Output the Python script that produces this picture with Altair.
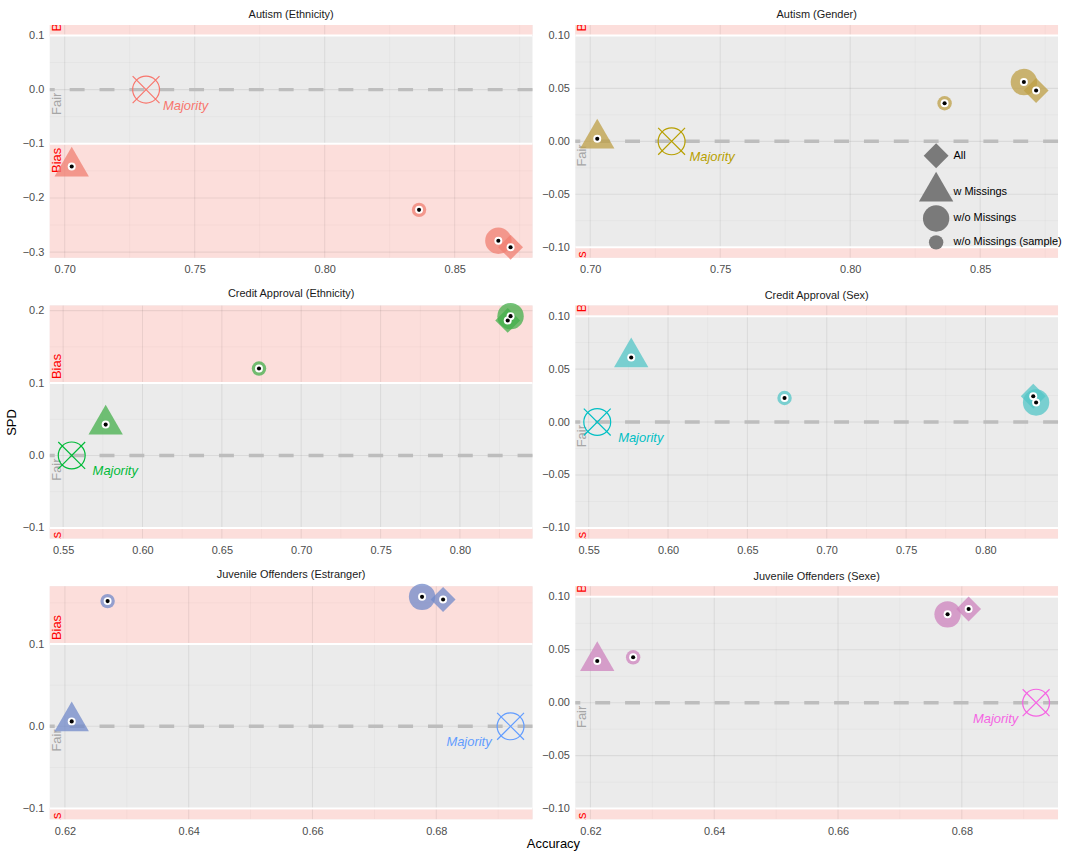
import altair as alt
import pandas as pd

FONT = "Liberation Sans"

MODELS = ["All", "w Missings", "w/o Missings", "w/o Missings (sample)"]

# Accuracy of each model variant (in MODELS order), one list per dataset
autism_accuracy = [0.8715, 0.7027, 0.8668, 0.8363]
credit_accuracy = [0.8301, 0.5768, 0.8319, 0.6734]
juvenile_accuracy = [0.6811, 0.6211, 0.6777, 0.6269]

# Accuracy of the majority-class baseline (its SPD is 0)
autism_majority = 0.7313
credit_majority = 0.5554
juvenile_majority = 0.6920

# Statistical parity difference per protected attribute (in MODELS order)
autism_ethnicity_spd = [-0.291, -0.142, -0.279, -0.222]
autism_gender_spd = [0.048, 0.0025, 0.056, 0.036]
credit_ethnicity_spd = [0.1864, 0.0426, 0.1923, 0.120]
credit_sex_spd = [0.0243, 0.061, 0.0184, 0.0227]
juvenile_estranger_spd = [0.1542, 0.006, 0.1574, 0.1522]
juvenile_sexe_spd = [0.0885, 0.0394, 0.0835, 0.0429]

panel_titles = [
    "Autism (Ethnicity)", "Autism (Gender)",
    "Credit Approval (Ethnicity)", "Credit Approval (Sex)",
    "Juvenile Offenders (Estranger)", "Juvenile Offenders (Sexe)",
]
hue_colors = ["#F8766D", "#B79F00", "#00BA38", "#00BFC4", "#619CFF", "#F564E3"]
point_colors = ["#F07F71", "#BE9F45", "#44AF4B", "#53C5C7", "#718ACA", "#CE83BD"]

autism_x_ticks = [0.70, 0.75, 0.80, 0.85]
credit_x_ticks = [0.55, 0.60, 0.65, 0.70, 0.75, 0.80]
juvenile_x_ticks = [0.62, 0.64, 0.66, 0.68]

y_ticks_autism_eth = [-0.3, -0.2, -0.1, 0.0, 0.1]
y_ticks_credit_eth = [-0.1, 0.0, 0.1, 0.2]
y_ticks_juv_est = [-0.1, 0.0, 0.1]
y_ticks_fine = [-0.10, -0.05, 0.0, 0.05, 0.10]

BIAS = 0.1
TRIANGLE = "M0,-1.1547L1,0.5774L-1,0.5774Z"
OTIMES = "M1,0A1,1,0,1,1,-1,0A1,1,0,1,1,1,0M-1,-1L1,1M-1,1L1,-1"
SHAPES = ["diamond", TRIANGLE, "circle", "circle"]
SIZES = [625, 1190, 702, 210]

W, H = 485, 234


def padded(lo, hi, frac=0.05):
    span = hi - lo
    return [lo - span * frac, hi + span * frac]


def minor_ticks(major, dom):
    step = major[1] - major[0]
    cands = [major[0] - step / 2] + [t + step / 2 for t in major]
    return [round(c, 4) for c in cands if dom[0] < c < dom[1]]


def panel(title, acc, majority, spd, hue, pcolor, x_ticks, y_ticks, y_fmt,
          label_dx, left_col, y_title=None, legend=None):
    xdom = padded(min(acc + [majority]), max(acc + [majority]))
    ydom = padded(min(spd + [-BIAS]), max(spd + [BIAS]))
    xs = alt.Scale(domain=xdom, nice=False, zero=False)
    ys = alt.Scale(domain=ydom, nice=False, zero=False)

    xaxis = alt.Axis(values=x_ticks, format=".2f", title=None, labelPadding=6,
                     minExtent=19, maxExtent=19, labelFlush=False)
    ext = 45 if left_col else 35
    yaxis_kw = dict(values=y_ticks, format=y_fmt, labelPadding=6,
                    minExtent=ext, maxExtent=ext)
    if y_title:
        yaxis_kw.update(title=y_title, titleX=-38, titleY=H / 2, titleAngle=270,
                        titleAlign="center", titleBaseline="middle")
    else:
        yaxis_kw.update(title=None)
    yaxis = alt.Axis(**yaxis_kw)

    def X(f):
        return alt.X(f, scale=xs, axis=xaxis)

    def Y(f):
        return alt.Y(f, scale=ys, axis=yaxis)

    # pink "bias" zones beyond +/- 0.1
    bands = pd.DataFrame({"x": [xdom[0]] * 2, "x2": [xdom[1]] * 2,
                          "y": [BIAS, -BIAS], "y2": [ydom[1], ydom[0]]})
    band_layer = alt.Chart(bands).mark_rect(color="#FCDEDB").encode(
        x=X("x:Q"), x2="x2:Q", y=Y("y:Q"), y2="y2:Q")

    # grid lines
    def vgrid(vals, width, op):
        return alt.Chart(pd.DataFrame({"x": vals})).mark_rule(
            color="#000000", opacity=op, strokeWidth=width).encode(x=X("x:Q"))

    def hgrid(vals, width, op):
        return alt.Chart(pd.DataFrame({"y": vals})).mark_rule(
            color="#000000", opacity=op, strokeWidth=width).encode(y=Y("y:Q"))

    grids = [
        vgrid(minor_ticks(x_ticks, xdom), 0.6, 0.05),
        hgrid(minor_ticks(y_ticks, ydom), 0.6, 0.05),
        vgrid(x_ticks, 1.1, 0.07),
        hgrid(y_ticks, 1.1, 0.07),
    ]

    edges = alt.Chart(pd.DataFrame({"y": [BIAS, -BIAS]})).mark_rule(
        color="white", strokeWidth=2).encode(y=Y("y:Q"))

    zero = alt.Chart(pd.DataFrame({"y": [0.0]})).mark_rule(
        color="#BDBDBD", strokeWidth=3.5, strokeDash=[15, 15]).encode(y=Y("y:Q"))

    # zone labels, rotated and clipped to the panel
    def zone_text(y, label, color, align, yoff):
        df = pd.DataFrame({"x": [xdom[0]], "y": [y], "label": [label]})
        return alt.Chart(df).mark_text(
            angle=270, align=align, baseline="top", fontSize=13, font=FONT,
            color=color, clip=True, yOffset=yoff, xOffset=1,
        ).encode(x=X("x:Q"), y=Y("y:Q"), text="label:N")

    zones = [
        zone_text(0.0, "Fair", "#A6A6A6", "right", 3),
        zone_text(BIAS, "Bias", "#FF0000", "left", -4),
        zone_text(-BIAS, "Bias", "#FF0000", "right", 4),
    ]

    pts = pd.DataFrame({"Model": MODELS, "x": acc, "y": spd, "grp": ["g"] * len(MODELS)})
    shape_enc = alt.Shape("Model:N", scale=alt.Scale(domain=MODELS, range=SHAPES),
                          legend=legend)
    size_enc = alt.Size("Model:N",
                        scale=alt.Scale(type="ordinal", domain=MODELS, range=SIZES),
                        legend=legend)

    points = alt.Chart(pts).mark_point(
        filled=True, opacity=0.75, strokeWidth=0
    ).encode(
        x=X("x:Q"),
        y=Y("y:Q"),
        color=alt.Color("grp:N", scale=alt.Scale(range=[pcolor]), legend=None),
        shape=shape_enc,
        size=size_enc,
    )

    halo = alt.Chart(pts).mark_point(
        filled=True, shape="circle", size=64, color="white", opacity=1, strokeWidth=0
    ).encode(x=X("x:Q"), y=Y("y:Q"))
    dot = alt.Chart(pts).mark_point(
        filled=True, shape="circle", size=17, color="black", opacity=1, strokeWidth=0
    ).encode(x=X("x:Q"), y=Y("y:Q"))

    maj = pd.DataFrame({"x": [majority], "y": [0.0], "label": ["Majority"]})
    maj_mark = alt.Chart(maj).mark_point(
        shape=OTIMES, size=729, filled=False, color=hue, strokeWidth=1.2, opacity=1
    ).encode(x=X("x:Q"), y=Y("y:Q"))
    maj_text = alt.Chart(maj).mark_text(
        fontStyle="italic", fontSize=13, font=FONT, color=hue,
        align="left" if label_dx > 0 else "right", baseline="middle",
        dx=label_dx, dy=16,
    ).encode(x=X("x:Q"), y=Y("y:Q"), text="label:N")

    layers = [band_layer] + grids + [edges, zero] + zones + [points, halo, dot, maj_mark, maj_text]
    return alt.layer(*layers).properties(
        width=W, height=H,
        title=alt.TitleParams(text=title, fontSize=11, fontWeight="normal", font=FONT,
                              color="#1A1A1A", offset=4, anchor="middle"),
    )


legend_box = alt.Legend(
    title=None, orient="none", legendX=345, legendY=119, labelFont=FONT,
    labelFontSize=11, labelColor="#000000", labelOffset=0, symbolFillColor="#7A7A7A",
    symbolStrokeWidth=0, symbolOpacity=1, rowPadding=3, padding=0,
)

p1 = panel(panel_titles[0], autism_accuracy, autism_majority, autism_ethnicity_spd,
           hue_colors[0], point_colors[0], autism_x_ticks, y_ticks_autism_eth, ".1f", 17, True)
p2 = panel(panel_titles[1], autism_accuracy, autism_majority, autism_gender_spd,
           hue_colors[1], point_colors[1], autism_x_ticks, y_ticks_fine, ".2f", 18, False,
           legend=legend_box)
p3 = panel(panel_titles[2], credit_accuracy, credit_majority, credit_ethnicity_spd,
           hue_colors[2], point_colors[2], credit_x_ticks, y_ticks_credit_eth, ".1f", 21, True,
           y_title="SPD")
p4 = panel(panel_titles[3], credit_accuracy, credit_majority, credit_sex_spd,
           hue_colors[3], point_colors[3], credit_x_ticks, y_ticks_fine, ".2f", 21, False)
p5 = panel(panel_titles[4], juvenile_accuracy, juvenile_majority, juvenile_estranger_spd,
           hue_colors[4], point_colors[4], juvenile_x_ticks, y_ticks_juv_est, ".1f", -19, True)
p6 = panel(panel_titles[5], juvenile_accuracy, juvenile_majority, juvenile_sexe_spd,
           hue_colors[5], point_colors[5], juvenile_x_ticks, y_ticks_fine, ".2f", -18, False)

RES = dict(x="independent", y="independent", shape="independent",
           size="independent", color="independent")


def row(a, b):
    return alt.hconcat(a, b, spacing=6).resolve_scale(**RES).resolve_legend(
        shape="independent", size="independent", color="independent")


chart = alt.vconcat(row(p1, p2), row(p3, p4), row(p5, p6), spacing=11).resolve_scale(
    **RES
).resolve_legend(shape="independent", size="independent", color="independent").properties(
    title=alt.TitleParams(text="Accuracy", orient="bottom", anchor="middle", frame="bounds",
                          dx=20, fontSize=13, fontWeight="normal", font=FONT,
                          color="#000000", offset=0),
    padding={"left": 5, "top": 7, "right": 6, "bottom": 2},
).configure_view(
    fill="#EBEBEB", stroke=None
).configure_axis(
    grid=False, ticks=False, domain=False, labelFont=FONT, labelFontSize=11,
    labelColor="#4D4D4D", titleFont=FONT, titleFontSize=13, titleColor="#000000",
    titleFontWeight="normal",
)

chart.save("out.html", embed_options={"renderer": "svg", "actions": False})
